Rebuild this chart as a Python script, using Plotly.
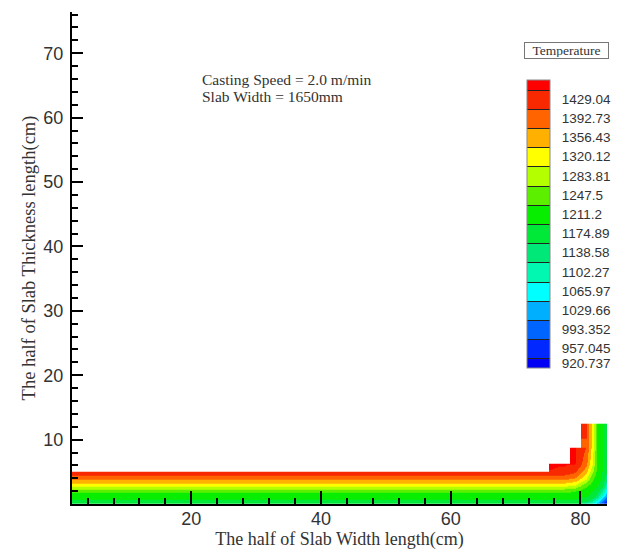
import plotly.graph_objects as go

# ---------------- data ----------------
# grid positions of the temperature samples (cm)
x_cm = [1.6, 74.5, 75.6, 77.5, 79.1, 80.9, 81.8, 82.6, 83.4, 84.1]
y_cm = [0, 0.6, 1.2, 2, 3, 4, 5.0, 5.05, 6.3, 6.35, 8.8, 8.85, 10.5, 12.4, 12.45]

N = None  # liquid core (blank)
# temperature along y (bottom -> top) at each x position
T_at_x1_6 = [1180, 1192, 1208, 1240, 1326, 1382, 1445, N, N, N, N, N, N, N, N]
T_at_x74_5 = [1180, 1192, 1208, 1240, 1326, 1382, 1445, N, N, N, N, N, N, N, N]
T_at_x75_6 = [1180, 1192, 1208, 1240, 1326, 1382, 1445, 1446, 1450, N, N, N, N, N, N]
T_at_x77_5 = [1177, 1191, 1207, 1239, 1322, 1379, 1436, 1439, 1450, N, N, N, N, N, N]
T_at_x79_1 = [1162, 1189, 1203, 1231, 1302, 1368, 1414, 1416, 1447, 1448, 1450, N, N, N, N]
T_at_x80_9 = [1117, 1181, 1191, 1208, 1243, 1302, 1348, 1350, 1386, 1387, 1410, 1410, 1411, 1411, N]
T_at_x81_8 = [1077, 1139, 1183, 1195, 1214, 1238, 1274, 1275, 1306, 1307, 1324, 1324, 1325, 1325, N]
T_at_x82_6 = [1032, 1088, 1140, 1180, 1195, 1207, 1217, 1218, 1225, 1225, 1229, 1229, 1229, 1229, N]
T_at_x83_4 = [976, 1026, 1072, 1125, 1180, 1187, 1192, 1193, 1196, 1196, 1198, 1198, 1198, 1198, N]
T_at_x84_1 = [920, 964, 1005, 1051, 1098, 1132, 1155, 1156, 1171, 1172, 1180, 1180, 1180, 1180, N]

columns = [T_at_x1_6, T_at_x74_5, T_at_x75_6, T_at_x77_5, T_at_x79_1,
           T_at_x80_9, T_at_x81_8, T_at_x82_6, T_at_x83_4, T_at_x84_1]
z_rows = [[col[j] for col in columns] for j in range(len(y_cm))]

# legend levels
levels = [920.737, 957.045, 993.352, 1029.66, 1065.97, 1102.27, 1138.58, 1174.89,
          1211.2, 1247.5, 1283.81, 1320.12, 1356.43, 1392.73, 1429.04]
level_text = ["920.737", "957.045", "993.352", "1029.66", "1065.97", "1102.27",
              "1138.58", "1174.89", "1211.2", "1247.5", "1283.81", "1320.12",
              "1356.43", "1392.73", "1429.04"]
band_colors = ["#0000f4", "#0028ff", "#0064ff", "#00b0ff", "#00ffff", "#00f8b0",
               "#00e878", "#00e838", "#08ee00", "#5cf000", "#b4ff00", "#ffff00",
               "#ffb000", "#ff6400", "#f82800", "#ff0000"]

# ---------------- styling ----------------
W, H = 620, 552
L, R, T, B = 72, 606.7, 12, 504
step = (levels[-1] - levels[0]) / (len(levels) - 1)
nb = len(band_colors)
zmin = levels[0] - step / 2
zmax = zmin + nb * step

stepped = []
for j, c in enumerate(band_colors):
    stepped.append([j / nb, c])
    stepped.append([(j + 1) / nb, c])

smooth_scale = [[j / (nb - 1), c] for j, c in enumerate(band_colors)]

fig = go.Figure()
fig.add_trace(go.Heatmap(
    x=x_cm, y=y_cm, z=z_rows, zsmooth="best",
    colorscale=stepped, zmin=zmin, zmax=zmax, showscale=False,
    hoverinfo="skip"))

# same data as a contour on hidden axes, only to produce the level legend
tickvals = [levels[0] + step / 4] + levels[1:]
fig.add_trace(go.Contour(
    x=x_cm, y=y_cm, z=z_rows, xaxis="x2", yaxis="y2",
    autocontour=False,
    contours=dict(start=levels[0] + step / 2, end=levels[-1] + step / 2 + step * 0.01,
                  size=step, coloring="fill", showlines=True),
    line=dict(color="#222222", width=1),
    colorscale=smooth_scale, hoverinfo="skip",
    colorbar=dict(
        thickness=23, thicknessmode="pixels",
        len=287.7, lenmode="pixels",
        x=(527 - L) / (R - L), xanchor="left", xpad=0,
        y=(B - 223.85) / (B - T), yanchor="middle", ypad=0,
        outlinecolor="#888888", outlinewidth=1,
        tickmode="array", tickvals=tickvals, ticktext=level_text,
        ticks="outside", ticklen=9, tickcolor="rgba(0,0,0,0)",
        tickfont=dict(family="Liberation Sans", size=13.5, color="#333333"),
    )))

axis_common = dict(showline=True, linecolor="black", linewidth=2, mirror=False,
                   ticks="inside", tickcolor="black", tickwidth=2,
                   showgrid=False, zeroline=False,
                   tickfont=dict(family="Liberation Sans", size=18, color="#333333"))

fig.update_layout(
    width=W, height=H,
    margin=dict(l=L, r=W - R, t=T, b=H - B, autoexpand=False),
    paper_bgcolor="white", plot_bgcolor="white",
    showlegend=False,
    xaxis=dict(range=[1.6, 84.1], tickmode="linear", tick0=0, dtick=20, ticklen=13,
               ticklabelstandoff=-3,
               minor=dict(ticks="inside", ticklen=6, tickwidth=1.5, tickcolor="black",
                          tickmode="linear", tick0=0, dtick=4),
               title=dict(text="The half of Slab Width length(cm)", standoff=2,
                          font=dict(family="Liberation Serif", size=18, color="#333333")),
               **axis_common),
    yaxis=dict(range=[0.01, 76.4], tickmode="linear", tick0=0, dtick=10, ticklen=11,
               ticklabelstandoff=3,
               minor=dict(ticks="inside", ticklen=6, tickwidth=1.5, tickcolor="black",
                          tickmode="linear", tick0=0, dtick=2),
               title=dict(text="The half of Slab Thickness length(cm)", standoff=3,
                          font=dict(family="Liberation Serif", size=18.5, color="#333333")),
               **axis_common),
    xaxis2=dict(range=[1000, 1001], visible=False, overlaying="x", anchor="y2"),
    yaxis2=dict(range=[1000, 1001], visible=False, overlaying="y", anchor="x2"),
    annotations=[
        dict(text="Casting Speed = 2.0 m/min", xref="paper", yref="paper",
             x=(200 - L) / (R - L), y=(B - 79) / (B - T), xanchor="left", yanchor="middle",
             showarrow=False, font=dict(family="Liberation Serif", size=15.5, color="#333333")),
        dict(text="Slab Width = 1650mm", xref="paper", yref="paper",
             x=(200 - L) / (R - L), y=(B - 96) / (B - T), xanchor="left", yanchor="middle",
             showarrow=False, font=dict(family="Liberation Serif", size=15.5, color="#333333")),
        dict(text="Temperature", xref="paper", yref="paper",
             x=(565.8 - L) / (R - L), y=(B - 50.5) / (B - T), xanchor="center", yanchor="middle",
             showarrow=False, width=81, height=13, borderpad=1, borderwidth=1,
             bordercolor="#777777",
             font=dict(family="Liberation Serif", size=13.5, color="#333333")),
    ],
)

fig.write_html("out.html")
